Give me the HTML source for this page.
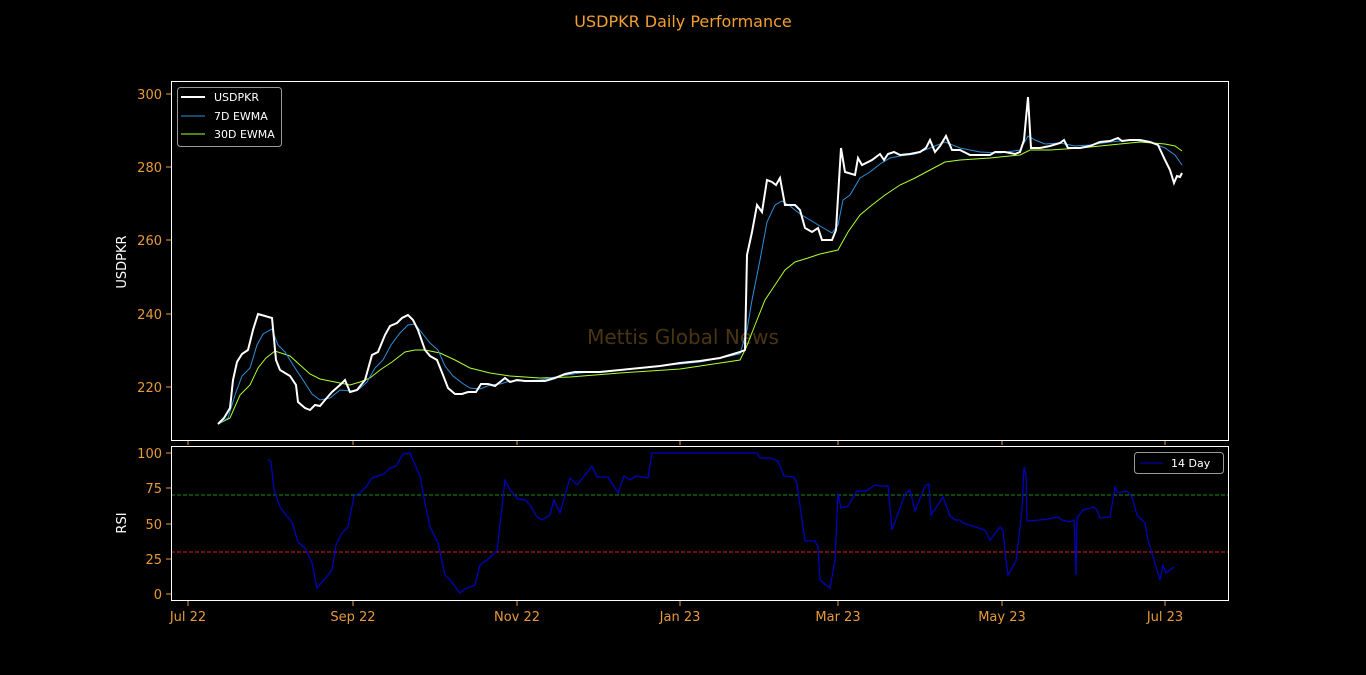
<!DOCTYPE html>
<html><head><meta charset="utf-8"><style>
html,body{margin:0;padding:0;background:#000;}
svg{display:block;font-family:"DejaVu Sans","Liberation Sans",sans-serif;}
</style></head><body>
<svg width="1366" height="675" viewBox="0 0 1366 675" xmlns="http://www.w3.org/2000/svg">
<rect width="1366" height="675" fill="#000"/>
<text x="683" y="27" fill="#f0a030" font-size="16" text-anchor="middle">USDPKR Daily Performance</text>
<text x="683" y="344" fill="#4a3512" font-size="20" text-anchor="middle">Mettis Global News</text>

<!-- top axes -->
<g stroke="#e69a3a" stroke-width="1">
<line x1="166" y1="94" x2="171" y2="94"/><line x1="166" y1="167" x2="171" y2="167"/><line x1="166" y1="240" x2="171" y2="240"/><line x1="166" y1="314" x2="171" y2="314"/><line x1="166" y1="387" x2="171" y2="387"/>
<line x1="188" y1="440" x2="188" y2="445"/><line x1="353" y1="440" x2="353" y2="445"/><line x1="517" y1="440" x2="517" y2="445"/><line x1="680" y1="440" x2="680" y2="445"/><line x1="838" y1="440" x2="838" y2="445"/><line x1="1002" y1="440" x2="1002" y2="445"/><line x1="1165" y1="440" x2="1165" y2="445"/>
</g>
<g fill="#e69a3a" font-size="13" text-anchor="end">
<text x="162" y="99">300</text><text x="162" y="172">280</text><text x="162" y="245">260</text><text x="162" y="319">240</text><text x="162" y="392">220</text>
</g>
<text transform="translate(126,262) rotate(-90)" fill="#fff" font-size="13" text-anchor="middle">USDPKR</text>

<polyline fill="none" stroke="#adff2f" stroke-width="1" points="218,424 230,418 240,395 250,385 258,368 266,358 275,351 290,356 300,365 310,374 320,379 335,382 350,385 360,382 370,378 380,370 392,362 405,352 415,350 425,350 440,353 455,360 470,368 490,373 510,376 540,378 570,377 620,373 680,369 740,360 746,348 755,325 765,300 775,285 785,270 795,262 808,258 820,254 838,250 848,232 860,215 872,205 885,195 900,185 915,178 930,170 945,162 960,160 990,158 1020,155 1030,150 1050,150 1080,148 1110,145 1140,142 1165,144 1175,146 1182,151"/>
<polyline fill="none" stroke="#2f8fd8" stroke-width="1" points="218,424 228,418 235,395 242,376 250,368 257,345 263,334 272,329 278,345 285,352 295,368 303,380 312,394 320,400 330,398 340,390 350,391 358,390 367,382 375,368 383,360 391,345 400,333 408,325 415,324 422,333 430,343 438,350 445,366 453,376 462,383 470,388 480,389 490,385 500,384 510,381 520,381 540,380 560,376 580,373 620,370 660,366 700,362 740,354 747,330 752,300 760,260 767,222 775,205 782,201 790,206 800,214 810,220 820,226 832,233 838,225 843,200 850,195 860,178 870,172 880,164 890,158 900,156 915,154 930,148 945,142 960,148 980,152 1000,153 1020,150 1028,136 1035,140 1045,144 1060,143 1075,146 1090,145 1110,142 1130,140 1150,142 1165,148 1175,155 1182,165"/>
<polyline fill="none" stroke="#fff" stroke-width="2" points="218,424 224,418 230,408 233,380 237,362 242,354 248,350 253,330 258,314 265,316 272,318 276,360 280,370 290,376 296,385 298,402 305,408 310,410 315,405 320,406 325,400 332,392 340,385 345,380 350,392 357,390 365,380 372,355 378,352 385,335 390,326 397,323 402,318 408,315 413,320 418,330 425,350 430,356 437,360 443,375 448,388 455,394 462,394 468,392 476,392 481,384 488,384 495,386 500,382 505,378 510,382 517,380 525,381 535,381 545,381 555,378 565,374 575,372 590,372 600,372 620,370 640,368 660,366 680,363 700,361 720,358 740,352 745,350 747,255 752,232 757,205 762,212 767,180 772,182 776,185 780,178 785,205 795,205 800,210 805,228 812,232 818,228 822,240 832,240 836,230 841,148 845,172 855,175 858,158 862,165 872,160 880,154 884,160 888,154 894,152 900,155 910,154 920,152 926,148 930,140 935,152 940,146 946,136 952,150 960,150 966,153 970,155 980,155 990,155 995,152 1005,152 1015,154 1020,152 1024,140 1028,97 1031,148 1040,148 1050,146 1060,143 1064,140 1068,148 1080,148 1090,146 1100,142 1110,141 1118,138 1122,141 1130,140 1140,140 1150,142 1158,145 1165,160 1170,170 1174,183 1177,176 1180,177 1182,173"/>
<rect x="171.5" y="81.5" width="1057" height="359" fill="none" stroke="#fff" stroke-width="1"/>

<!-- legend top -->
<rect x="177.5" y="87.5" width="104" height="59" rx="3" fill="#000" stroke="#999" stroke-width="1"/>
<line x1="181" y1="97" x2="205" y2="97" stroke="#fff" stroke-width="2"/>
<line x1="181" y1="116" x2="205" y2="116" stroke="#2f8fd8" stroke-width="1"/>
<line x1="181" y1="134" x2="205" y2="134" stroke="#adff2f" stroke-width="1"/>
<g fill="#fff" font-size="11"><text x="214" y="101">USDPKR</text><text x="214" y="120">7D EWMA</text><text x="214" y="138">30D EWMA</text></g>

<!-- bottom axes -->
<line x1="171" y1="495" x2="1229" y2="495" stroke="#1a8a1a" stroke-width="1" stroke-dasharray="4,2"/>
<line x1="171" y1="552" x2="1229" y2="552" stroke="#d62020" stroke-width="1" stroke-dasharray="4,2"/>
<polyline fill="none" stroke="#0000c8" stroke-width="1.2" points="268,459 271,462 274,490 280,507 286,515 292,522 298,542 305,548 312,563 317,588 322,582 328,575 332,570 336,545 342,533 348,527 354,496 360,493 366,487 372,478 378,476 384,474 390,468 396,466 403,454 410,453 416,467 420,476 425,503 430,527 438,543 445,575 450,580 460,593 465,589 475,585 480,565 487,560 497,551 505,480 510,490 518,499 525,500 530,505 537,517 542,520 550,515 554,500 560,513 565,495 570,478 577,485 585,475 592,466 597,477 608,477 618,493 624,476 630,480 636,476 648,478 652,453 700,453 757,453 760,458 770,458 778,461 784,476 794,477 797,484 805,541 815,541 818,547 820,580 826,585 830,588 835,560 838,493 841,508 848,506 857,491 866,491 875,485 880,486 888,486 892,530 905,494 910,490 915,511 925,486 929,484 931,515 943,497 950,516 955,520 960,520 963,523 972,526 985,530 990,540 1000,527 1003,530 1006,560 1008,575 1016,561 1022,510 1024,467 1026,474 1027,521 1040,520 1048,519 1058,517 1062,520 1070,522 1074,520 1076,575 1077,518 1083,510 1094,507 1097,510 1100,518 1110,517 1115,487 1118,493 1127,491 1132,497 1137,515 1145,523 1148,540 1160,580 1163,565 1166,573 1174,567"/>
<rect x="171.5" y="446.5" width="1057" height="154" fill="none" stroke="#fff" stroke-width="1"/>
<g stroke="#e69a3a" stroke-width="1">
<line x1="166" y1="453" x2="171" y2="453"/><line x1="166" y1="488" x2="171" y2="488"/><line x1="166" y1="524" x2="171" y2="524"/><line x1="166" y1="559" x2="171" y2="559"/><line x1="166" y1="594" x2="171" y2="594"/>
<line x1="188" y1="601" x2="188" y2="606"/><line x1="353" y1="601" x2="353" y2="606"/><line x1="517" y1="601" x2="517" y2="606"/><line x1="680" y1="601" x2="680" y2="606"/><line x1="838" y1="601" x2="838" y2="606"/><line x1="1002" y1="601" x2="1002" y2="606"/><line x1="1165" y1="601" x2="1165" y2="606"/>
</g>
<g fill="#e69a3a" font-size="13" text-anchor="end">
<text x="162" y="458">100</text><text x="162" y="493">75</text><text x="162" y="529">50</text><text x="162" y="564">25</text><text x="162" y="599">0</text>
</g>
<g fill="#e69a3a" font-size="13" text-anchor="middle">
<text x="188" y="621">Jul 22</text><text x="353" y="621">Sep 22</text><text x="517" y="621">Nov 22</text><text x="680" y="621">Jan 23</text><text x="838" y="621">Mar 23</text><text x="1002" y="621">May 23</text><text x="1165" y="621">Jul 23</text>
</g>
<text transform="translate(126,523) rotate(-90)" fill="#fff" font-size="13" text-anchor="middle">RSI</text>

<rect x="1134.5" y="452.5" width="89" height="21" rx="3" fill="#000" stroke="#999" stroke-width="1"/>
<line x1="1140" y1="463" x2="1163" y2="463" stroke="#0000c8" stroke-width="1"/>
<text x="1171" y="467" fill="#fff" font-size="11">14 Day</text>
</svg>
</body></html>
